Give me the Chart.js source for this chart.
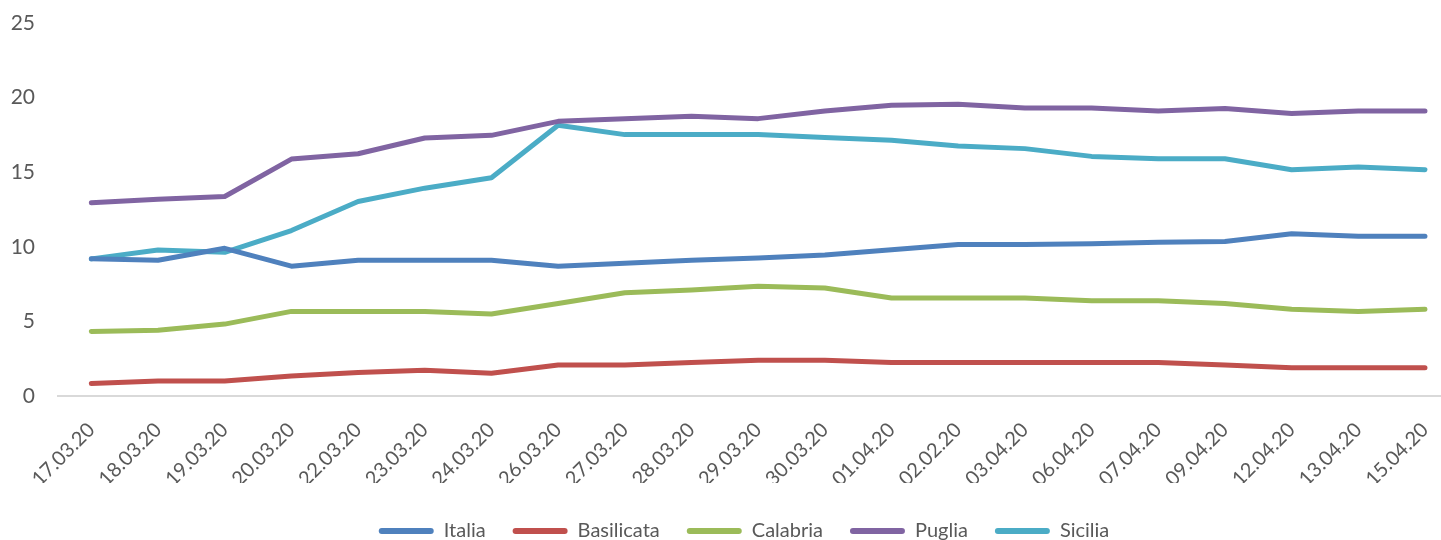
<!DOCTYPE html>
<html>
<head>
<meta charset="utf-8">
<script src="https://cdn.jsdelivr.net/npm/chart.js@4"></script>
<style>
html, body { margin: 0; padding: 0; background: #fff; overflow: hidden; }
#wrap { width: 1441px; height: 540px; overflow: hidden; }
canvas { display: block; }
</style>
</head>
<body>
<div id="wrap"><canvas id="chart" width="1464" height="540"></canvas></div>
<script>
// data
const dates = ['17.03.20', '18.03.20', '19.03.20', '20.03.20', '22.03.20', '23.03.20', '24.03.20',
    '26.03.20', '27.03.20', '28.03.20', '29.03.20', '30.03.20', '01.04.20', '02.02.20',
    '03.04.20', '06.04.20', '07.04.20', '09.04.20', '12.04.20', '13.04.20', '15.04.20'];

const italia     = [9.2, 9.1, 9.9, 8.7, 9.1, 9.1, 9.1, 8.7, 8.9, 9.1, 9.25, 9.45, 9.8, 10.15, 10.15, 10.2, 10.3, 10.35, 10.87, 10.7, 10.7];
const basilicata = [0.83, 1.0, 1.0, 1.34, 1.57, 1.73, 1.52, 2.08, 2.08, 2.24, 2.4, 2.4, 2.24, 2.24, 2.24, 2.24, 2.24, 2.08, 1.9, 1.9, 1.9];
const calabria   = [4.32, 4.41, 4.82, 5.67, 5.67, 5.67, 5.49, 6.2, 6.92, 7.1, 7.35, 7.24, 6.57, 6.57, 6.57, 6.38, 6.38, 6.2, 5.82, 5.67, 5.82];
const puglia     = [12.95, 13.19, 13.37, 15.88, 16.24, 17.29, 17.47, 18.41, 18.59, 18.75, 18.59, 19.1, 19.49, 19.56, 19.31, 19.31, 19.1, 19.27, 18.93, 19.1, 19.1];
const sicilia    = [9.19, 9.79, 9.63, 11.09, 13.04, 13.93, 14.63, 18.15, 17.52, 17.52, 17.52, 17.32, 17.14, 16.75, 16.58, 16.06, 15.9, 15.9, 15.17, 15.35, 15.17];

const yTicks = [0, 5, 10, 15, 20, 25];

const series = [
    {name: 'Italia', values: italia, color: '#4F81BD'},
    {name: 'Basilicata', values: basilicata, color: '#C0504D'},
    {name: 'Calabria', values: calabria, color: '#9BBB59'},
    {name: 'Puglia', values: puglia, color: '#8064A2'},
    {name: 'Sicilia', values: sicilia, color: '#4BACC6'}
];

const textColor = '#595959';
const fontName = 'Lato, "Open Sans", sans-serif';

// legend sits off-centre under the plot, pin it there before drawing
const legendPlacer = {
    id: 'legendPlacer',
    beforeDraw(chart) {
        const lg = chart.legend;
        if (!lg) return;
        const w = lg.width, h = lg.height;
        lg.left = 744 - w / 2;
        lg.right = lg.left + w;
        lg.top = 494;
        lg.bottom = lg.top + h;
    }
};

const datasets = series.map(s => ({
    label: s.name,
    data: s.values,
    borderColor: s.color,
    backgroundColor: s.color,
    borderWidth: 5,
    borderCapStyle: 'round',
    borderJoinStyle: 'round',
    pointRadius: 0,
    pointHoverRadius: 0,
    tension: 0,
    fill: false
}));

var ctx = document.getElementById('chart');
var chart = new Chart(ctx, {
    type: 'line',
    data: {labels: dates, datasets: datasets},
    options: {
        responsive: false,
        animation: false,
        devicePixelRatio: 1,
        layout: {padding: {top: 23, left: 0, right: 2, bottom: 0}},
        plugins: {
            tooltip: {enabled: false},
            legend: {
                position: 'bottom',
                align: 'center',
                labels: {
                    boxWidth: 55,
                    boxHeight: 6,
                    padding: 27,
                    color: textColor,
                    font: {family: fontName, size: 20},
                    useBorderRadius: true,
                    borderRadius: 3,
                    generateLabels(chart) {
                        const items = Chart.defaults.plugins.legend.labels.generateLabels(chart);
                        for (const it of items) it.lineWidth = 0;
                        return items;
                    }
                }
            }
        },
        scales: {
            x: {
                offset: true,
                grid: {display: false, drawTicks: false},
                border: {display: true, color: '#d9d9d9', width: 2},
                ticks: {
                    autoSkip: false,
                    minRotation: 45,
                    maxRotation: 45,
                    padding: 22,
                    labelOffset: 0,
                    color: textColor,
                    font: {family: fontName, size: 20}
                },
                afterFit(scale) {
                    scale.height = 87;
                    scale.paddingTop = 0;
                    scale.paddingBottom = 0;
                }
            },
            y: {
                min: 0,
                max: 25,
                afterBuildTicks(scale) { scale.ticks = yTicks.map(v => ({value: v})); },
                grid: {display: false, drawTicks: false},
                border: {display: false},
                ticks: {
                    padding: 23,
                    color: textColor,
                    font: {family: fontName, size: 21}
                },
                afterFit(scale) {
                    scale.width = 58;
                    scale.paddingTop = 0;
                    scale.paddingBottom = 0;
                }
            }
        }
    },
    plugins: [legendPlacer]
});
</script>
</body>
</html>
